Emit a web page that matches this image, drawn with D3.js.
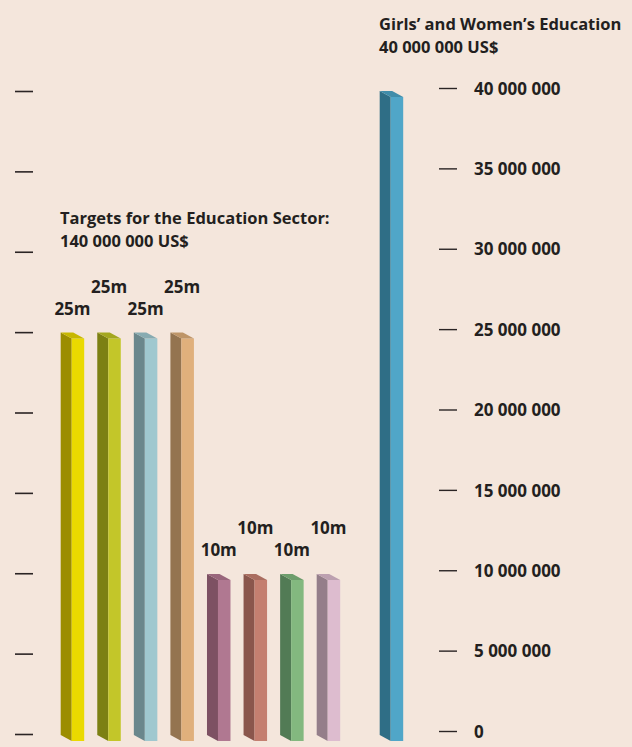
<!DOCTYPE html>
<html>
<head>
<meta charset="utf-8">
<script src="https://cdn.jsdelivr.net/npm/d3@7/dist/d3.min.js"></script>
<style>
  html, body { margin: 0; padding: 0; background: #f4e6dc; }
  svg { display: block; }
  text { font-family: "Open Sans", "Lato", sans-serif; font-weight: 700; fill: #231f20; }
</style>
</head>
<body>
<svg id="chart" width="632" height="747"></svg>
<script>
// Education sector targets (millions of US$)
const targetIds = ["t1", "t2", "t3", "t4", "t5", "t6", "t7", "t8"];
const targetValues = [25, 25, 25, 25, 10, 10, 10, 10];
const targetLabels = ["25m", "25m", "25m", "25m", "10m", "10m", "10m", "10m"];
const targetFront = ["#eada00", "#c3c629", "#9fc8cf", "#e0b07c", "#b07891", "#c47f70", "#83b87f", "#ddbccf"];
const targetSide  = ["#9c8d00", "#7c8013", "#6a878c", "#947450", "#7d5163", "#8a564c", "#527b55", "#947e8a"];

// Girls' and women's education (millions of US$)
const girlsValue = 40;
const girlsFront = "#50a6c8";
const girlsSide = "#2f6e86";

// Axis ticks (US$)
const tickValues = [0, 5000000, 10000000, 15000000, 20000000, 25000000, 30000000, 35000000, 40000000];

const svg = d3.select("#chart");
const W = 632, H = 747;
svg.append("rect").attr("width", W).attr("height", H).attr("fill", "#f4e6dc");

// Scales
const yBar = d3.scaleLinear().domain([0, 40]).range([741, 97]);
const yRight = d3.scaleLinear().domain([0, 40000000]).range([731, 88]);
const yLeft = d3.scaleLinear().domain([0, 40000000]).range([734, 91]);
const x = d3.scalePoint().domain(targetIds).range([71.7, 327.7]);
const xGirls = 390.7;

const faceW = 12.5;   // front face width
const depthX = 11;    // side depth to the left
const depthY = 6;     // side rise

const fmt = d3.formatLocale({ thousands: " ", grouping: [3], decimal: "." }).format(",");

// Left ticks (no labels)
const leftAxis = d3.axisRight(yLeft).tickValues(tickValues).tickSize(18).tickFormat("");
svg.append("g").attr("transform", "translate(15,0)").call(leftAxis)
  .call(g => g.select(".domain").remove())
  .call(g => g.selectAll(".tick line").attr("stroke", "#2a2424").attr("stroke-width", 1.6));

// Right axis with labels
const rightAxis = d3.axisRight(yRight).tickValues(tickValues).tickSize(18).tickPadding(17).tickFormat(fmt);
svg.append("g").attr("transform", "translate(439,0)").call(rightAxis)
  .call(g => g.select(".domain").remove())
  .call(g => g.selectAll(".tick line").attr("stroke", "#2a2424").attr("stroke-width", 1.4))
  .call(g => g.selectAll(".tick text")
    .attr("font-family", "Open Sans, Lato, sans-serif")
    .attr("font-weight", 800).attr("font-size", 17).attr("fill", "#231f20").attr("dy", "0.36em"));

// Draws one extruded bar whose front face starts at x0
function drawBar(g, x0, value, front, side) {
  const top = yBar(value), bottom = yBar(0);
  const cap = d3.interpolateRgb(side, front)(0.55);
  // side face
  g.append("path")
    .attr("d", `M${x0 - depthX},${top - depthY} L${x0},${top} L${x0},${bottom} L${x0 - depthX},${bottom - depthY} Z`)
    .attr("fill", side);
  // front face
  g.append("rect")
    .attr("x", x0).attr("y", top).attr("width", faceW).attr("height", bottom - top)
    .attr("fill", front);
  // top cap
  g.append("path")
    .attr("d", `M${x0 - depthX},${top - depthY} L${x0 - depthX + faceW},${top - depthY} L${x0 + faceW},${top} L${x0},${top} Z`)
    .attr("fill", cap);
}

const bars = svg.append("g");
targetIds.forEach((id, i) => {
  drawBar(bars, x(id), targetValues[i], targetFront[i], targetSide[i]);
});
drawBar(bars, xGirls, girlsValue, girlsFront, girlsSide);

// Value labels, alternating between two heights, centred over each bar
svg.append("g").selectAll("text")
  .data(targetIds)
  .join("text")
  .attr("x", (d) => x(d) - depthX / 2 + faceW / 2)
  .attr("y", (d, i) => yBar(targetValues[i]) - depthY - (i % 2 === 0 ? 18 : 40))
  .attr("text-anchor", "middle")
  .attr("font-size", 17)
  .attr("font-weight", 800)
  .text((d, i) => targetLabels[i]);

// Titles
const t1 = svg.append("text").attr("x", 60).attr("y", 224).attr("font-size", 16.5).attr("font-weight", 800);
t1.append("tspan").attr("x", 60).text("Targets for the Education Sector:");
t1.append("tspan").attr("x", 60).attr("y", 247).text("140 000 000 US$");

const t2 = svg.append("text").attr("x", 379).attr("y", 30).attr("font-size", 16.5).attr("font-weight", 800);
t2.append("tspan").attr("x", 379).text("Girls’ and Women’s Education");
t2.append("tspan").attr("x", 379).attr("y", 53).text("40 000 000 US$");
</script>
</body>
</html>
